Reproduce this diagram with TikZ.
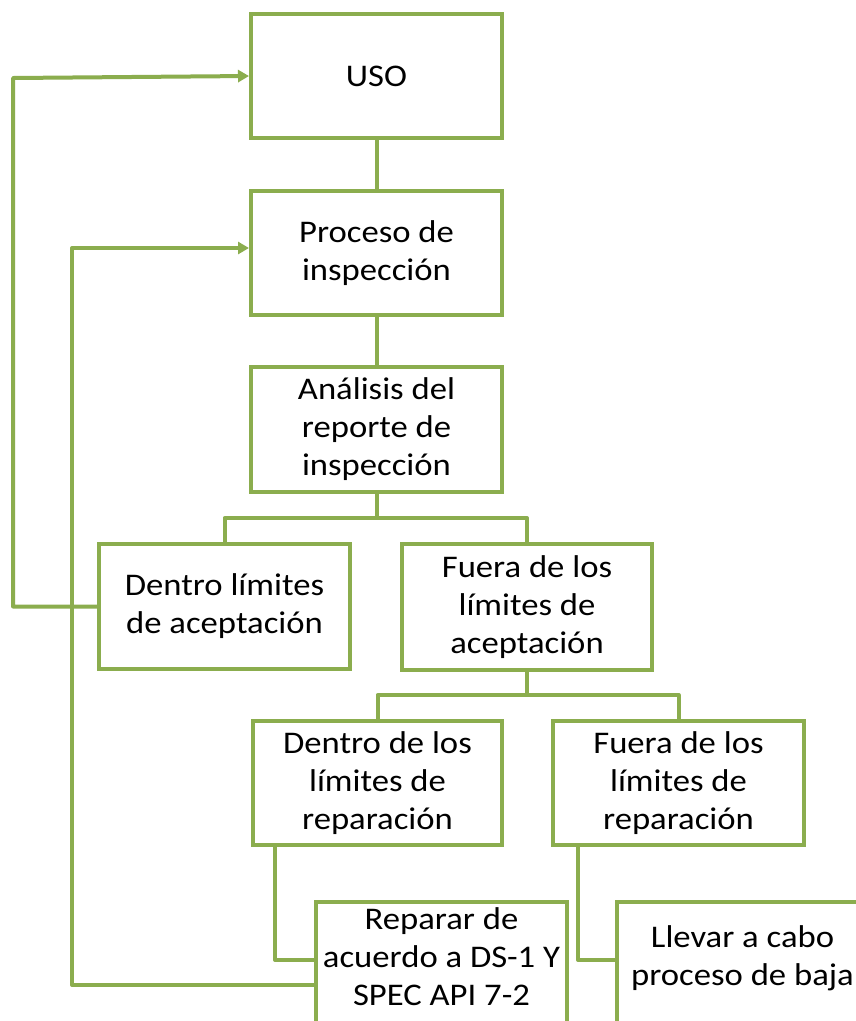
\documentclass[tikz,border=0pt]{standalone}
\usepackage{fontspec}
\setmainfont{Carlito}[FakeStretch=1.1]
\usetikzlibrary{arrows.meta}
\definecolor{gr}{RGB}{139,173,78}
\begin{document}
\begin{tikzpicture}[x=1pt,y=-1pt,
  box/.style={draw=gr, line width=4pt, minimum width=251pt, minimum height=124pt,
    inner sep=0pt, align=center, font=\fontsize{31.5}{38}\selectfont},
  txt/.style={inner sep=0pt, align=center, font=\fontsize{31.5}{38}\selectfont},
  conn/.style={draw=gr, line width=4pt, line join=round},
  arr/.style={conn, -{Triangle[length=11pt,width=12pt]}}]
\useasboundingbox (0,0) rectangle (856,1021);
\clip (0,0) rectangle (856,1021);
\fill[white] (0,0) rectangle (856,1021);

\node[box] (uso) at (376.5,76) {USO};
\node[box] (proc) at (376.5,253) {Proceso de\\inspección};
\node[box, minimum height=125pt] (anal) at (376.5,429.5) {Análisis del\\reporte de\\inspección};
\node[box, minimum height=125pt] (dacep) at (224.5,606.5) {Dentro límites\\de aceptación};
\node[box, minimum width=250pt, minimum height=126pt] (facep) at (527,607) {Fuera de los\\límites de\\aceptación};
\node[box, minimum width=249pt] (drep) at (377.5,783) {Dentro de los\\límites de\\reparación};
\node[box] (frep) at (678.5,783) {Fuera de los\\límites de\\reparación};
\node[box, minimum height=150pt, anchor=north] (repar) at (441.5,900) {};
\node[txt] (repartxt) at (441.5,957) {Reparar de\\acuerdo a DS-1 Y\\SPEC API 7-2};
\node[box, minimum height=150pt, anchor=north] (llevar) at (742.5,900) {};
\node[txt] (llevartxt) at (742.5,958) {Llevar a cabo\\proceso de baja};

\coordinate (b1) at (376.5,518);
\coordinate (b2) at (527,695);

\draw[conn] (uso) -- (proc);
\draw[conn] (proc) -- (anal);
\draw[conn] (anal.south) -- (b1);
\draw[conn] (dacep.north) |- (b1) -| (facep.north);
\draw[conn] (facep.south) -- (b2);
\draw[conn] (drep.north) |- (b2) -| (frep.north);

\draw[conn] ([xshift=24pt]drep.south west) |- ([yshift=-60pt]repar.north west);
\draw[conn] ([xshift=27pt]frep.south west) |- ([yshift=-60pt]llevar.north west);

\draw[arr] (dacep.west) -| (13,78) -- (uso.west);
\draw[arr] ([yshift=-85pt]repar.north west) -| (72,248) -- ([yshift=5pt]proc.west);
\end{tikzpicture}
\end{document}
